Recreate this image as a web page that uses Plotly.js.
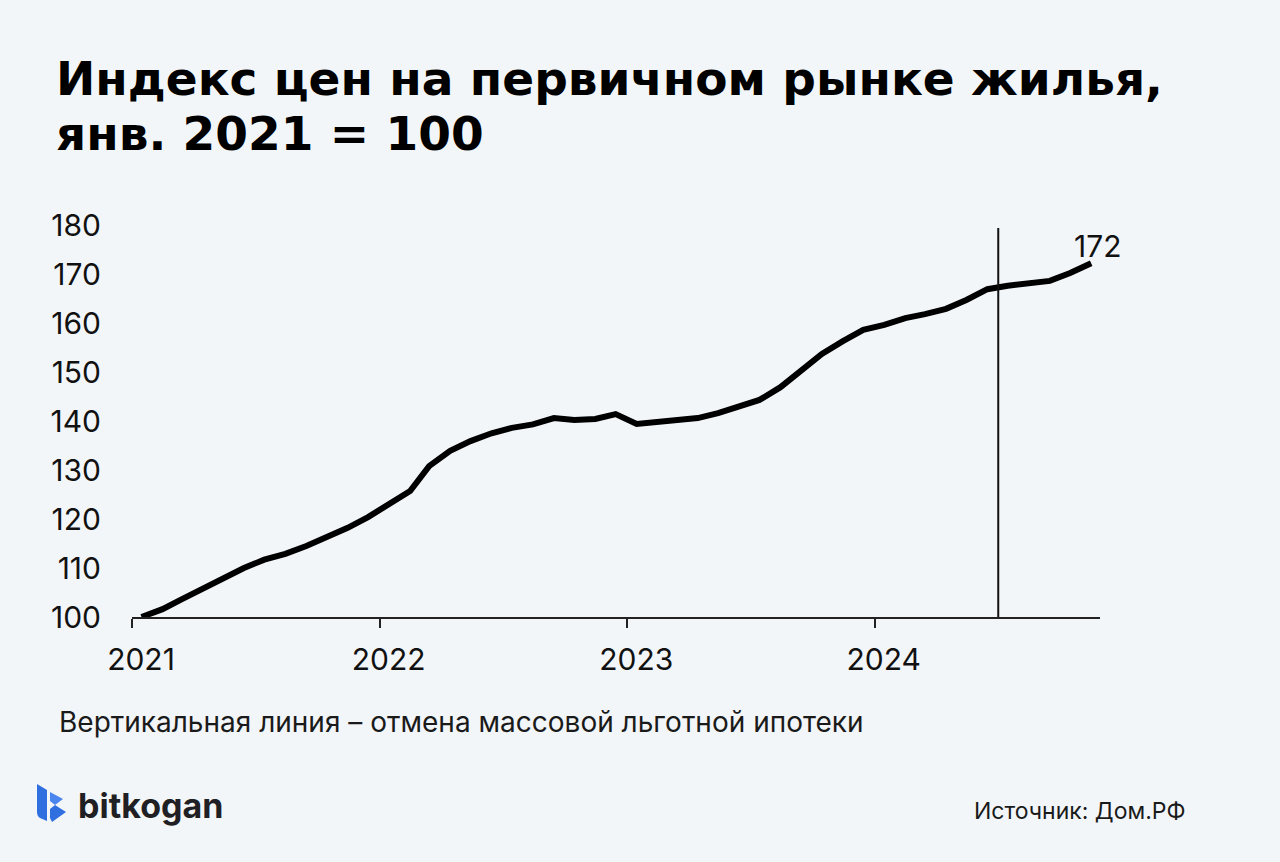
<!DOCTYPE html>
<html>
<head>
<meta charset="utf-8">
<script src="https://cdn.plot.ly/plotly-3.0.1.min.js"></script>
<style>
  html, body { margin: 0; padding: 0; background: #f3f6f9; }
  #chart { width: 1280px; height: 862px; }
</style>
</head>
<body>
<div id="chart"></div>
<script>
// ---- Data ----
const months = [
  "2021-01-15","2021-02-15","2021-03-15","2021-04-15","2021-05-15","2021-06-15",
  "2021-07-15","2021-08-15","2021-09-15","2021-10-15","2021-11-15","2021-12-15",
  "2022-01-15","2022-02-15","2022-03-15","2022-04-15","2022-05-15","2022-06-15",
  "2022-07-15","2022-08-15","2022-09-15","2022-10-15","2022-11-15","2022-12-15",
  "2023-01-15","2023-02-15","2023-03-15","2023-04-15","2023-05-15","2023-06-15",
  "2023-07-15","2023-08-15","2023-09-15","2023-10-15","2023-11-15","2023-12-15",
  "2024-01-15","2024-02-15","2024-03-15","2024-04-15","2024-05-15","2024-06-15",
  "2024-07-15","2024-08-15","2024-09-15","2024-10-15","2024-11-15"
];
const priceIndex = [
  100, 101.6, 103.6, 105.8, 108, 110, 111.7, 112.9, 114.5, 116.3, 118.2, 120.4,
  122.9, 125.7, 130.8, 133.9, 135.9, 137.5, 138.6, 139.3, 140.6, 140.2, 140.4, 141.4,
  139.4, 139.8, 140, 140.6, 141.6, 142.9, 144.3, 146.9, 150.4, 153.7, 156.3, 158.6,
  159.6, 161, 161.8, 162.9, 164.7, 166.9, 167.6, 168, 168.6, 170.2, 172.2
];
const yearTicks = ["2021-01-01","2022-01-01","2023-01-01","2024-01-01"];
const yearLabels = ["2021","2022","2023","2024"];
const yTicks = [100,110,120,130,140,150,160,170,180];
const eventDate = "2024-07-01";   // отмена массовой льготной ипотеки
const lastLabel = "172";

const titleLine1 = "Индекс цен на первичном рынке жилья,";
const titleLine2 = "янв. 2021 = 100";
const noteText = "Вертикальная линия – отмена массовой льготной ипотеки";
const sourceText = "Источник: Дом.РФ";
const brandText = "bitkogan";

// ---- Layout helpers ----
const L = 132, R = 1100, T = 225, B = 617, W = 1280, H = 862;
const px = x => (x - L) / (R - L);
const py = y => (B - y) / (B - T);
const FONT = "Inter, 'Noto Sans', sans-serif";
const TITLE_FONT = "'DejaVu Sans', Inter, sans-serif";

const trace = {
  x: months, y: priceIndex, type: "scatter", mode: "lines",
  line: { color: "#000000", width: 6 },
  hoverinfo: "skip"
};

const big = s => `<span style="font-size:47px"><b>${s}</b></span>`;

const layout = {
  width: W, height: H,
  paper_bgcolor: "#f3f6f9", plot_bgcolor: "#f3f6f9",
  margin: { l: L, r: W - R, t: T, b: H - B, pad: 0 },
  showlegend: false,
  font: { family: FONT, color: "#111111" },
  xaxis: {
    type: "date",
    range: ["2021-01-01", "2024-11-28"],
    tickvals: yearTicks, ticktext: yearLabels,
    ticks: "outside", ticklen: 9, tickwidth: 2, tickcolor: "#222222",
    showline: true, linecolor: "#222222", linewidth: 2,
    showgrid: false, zeroline: false,
    tickfont: { family: FONT, size: 30, color: "#111111" },
    ticklabelstandoff: 6,
    ticklabelshift: 9
  },
  yaxis: {
    range: [100, 180],
    tickvals: yTicks,
    ticks: "", showline: false, showgrid: false, zeroline: false,
    tickfont: { family: FONT, size: 30, color: "#111111" },
    ticklabelstandoff: 30
  },
  shapes: [
    { type: "line", xref: "x", yref: "y", x0: eventDate, x1: eventDate, y0: 100, y1: 179.4,
      line: { color: "#111111", width: 2 } },
    // logo: left bar
    { type: "path", xref: "paper", yref: "paper",
      path: `M ${px(37)} ${py(784)} L ${px(47)} ${py(790)} L ${px(47)} ${py(821)} L ${px(40)} ${py(818)} Q ${px(37)} ${py(816)} ${px(37)} ${py(812)} Z`,
      fillcolor: "#2f6fe0", line: { width: 0 } },
    // logo: upper arrow
    { type: "path", xref: "paper", yref: "paper",
      path: `M ${px(50)} ${py(792)} L ${px(63)} ${py(799)} L ${px(55)} ${py(805)} L ${px(50)} ${py(801)} Z`,
      fillcolor: "#4a86ee", line: { width: 0 } },
    // logo: lower arrow
    { type: "path", xref: "paper", yref: "paper",
      path: `M ${px(55)} ${py(805)} L ${px(66)} ${py(812)} L ${px(52)} ${py(822)} L ${px(50)} ${py(818)} L ${px(50)} ${py(809)} Z`,
      fillcolor: "#2f6fe0", line: { width: 0 } }
  ],
  annotations: [
    { xref: "paper", yref: "paper", x: px(54), y: py(106), xanchor: "left", yanchor: "middle",
      align: "left",
      text: big(titleLine1) + "<br>" + big(titleLine2), showarrow: false,
      font: { family: TITLE_FONT, size: 42.5, color: "#000000" } },
    { xref: "x", yref: "y", x: months[months.length - 1], y: priceIndex[priceIndex.length - 1],
      text: lastLabel, showarrow: false, xanchor: "center", yanchor: "middle",
      xshift: 6, yshift: 17,
      font: { family: FONT, size: 30, color: "#111111" } },
    { xref: "paper", yref: "paper", x: px(57), y: py(722), xanchor: "left", yanchor: "middle",
      text: noteText, showarrow: false,
      font: { family: FONT, size: 28, color: "#1a1a1a" } },
    { xref: "paper", yref: "paper", x: px(1188), y: py(811), xanchor: "right", yanchor: "middle",
      text: sourceText, showarrow: false,
      font: { family: FONT, size: 23, color: "#1a1a1a" } },
    { xref: "paper", yref: "paper", x: px(76), y: py(805), xanchor: "left", yanchor: "middle",
      text: "<b>" + brandText + "</b>", showarrow: false,
      font: { family: FONT, size: 34, color: "#1f1f24" } }
  ]
};

Plotly.newPlot("chart", [trace], layout, { displayModeBar: false, staticPlot: true });
</script>
</body>
</html>
